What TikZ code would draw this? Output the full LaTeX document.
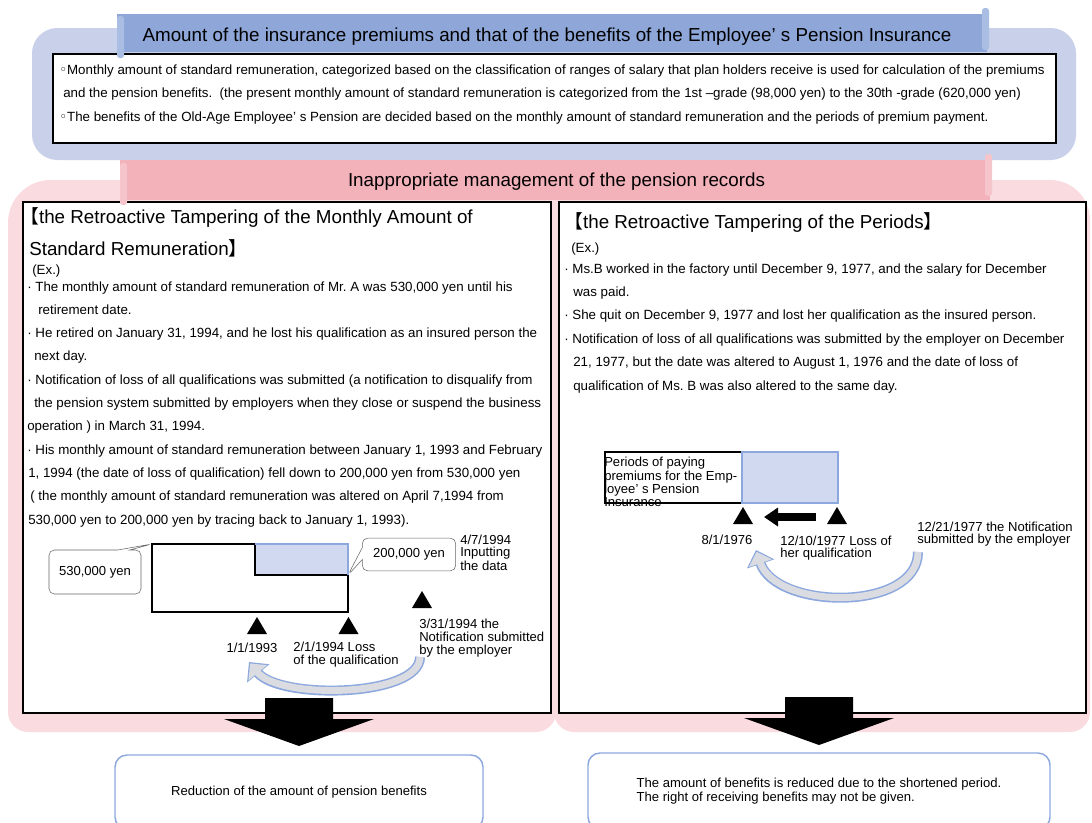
\documentclass[tikz,border=0pt]{standalone}
\usepackage{fontspec}
\setmainfont{Liberation Sans}
\newfontfamily\cjkFont{Noto Sans CJK JP}
\newfontfamily\symbolFont{DejaVu Sans}
\usetikzlibrary{positioning,arrows.meta,shapes.callouts}
\frenchspacing
\definecolor{headerBlue}{RGB}{142,167,216}
\definecolor{panelBlue}{RGB}{201,209,234}
\definecolor{headerPink}{RGB}{243,177,186}
\definecolor{panelPink}{RGB}{250,219,223}
\definecolor{barBlue}{RGB}{208,217,239}
\definecolor{edgeBlue}{RGB}{140,168,222}
\definecolor{arrowGray}{RGB}{218,220,225}
\tikzstyle{pixelGrid} = [x=0.75pt, y=-0.75pt]
\tikzstyle{headerText} = [font=\fontsize{14.1}{16}\selectfont, inner sep=0pt, anchor=base]
\tikzstyle{caseTitle} = [font=\fontsize{14.1}{16}\selectfont, inner sep=0pt, anchor=base west]
\tikzstyle{noteText} = [font=\fontsize{10}{12}\selectfont, inner sep=0pt, anchor=base west]
\tikzstyle{labelText} = [font=\fontsize{9.8}{9.75}\selectfont, inner sep=0pt, align=left, anchor=north west]
\tikzstyle{frameLine} = [draw=black, line width=1.5pt]
\tikzstyle{calloutBox} = [rectangle callout, draw=black!60, fill=white, rounded corners=4pt, font=\fontsize{9.8}{12}\selectfont, callout pointer width=9pt]
\tikzstyle{resultBox} = [draw=edgeBlue, line width=1.1pt, fill=white, rounded corners=9pt, font=\fontsize{9.8}{10.5}\selectfont]
\tikzstyle{bendOuter} = [draw=edgeBlue, line width=7.5pt, -{Triangle[length=11pt,width=21pt]}]
\tikzstyle{bendInner} = [draw=arrowGray, line width=5.2pt, shorten >=1.4pt, -{Triangle[length=9pt,width=17.5pt]}]
\tikzstyle{shiftArrow} = [line width=6pt, -{Triangle[length=10.5pt,width=13.5pt]}]
\newcommand{\dateMark}[2]{\fill (#1,#2) -- (#1 + 10,#2 + 17) -- (#1 - 10,#2 + 17) -- cycle;}
\newcommand{\downArrow}[2]{\fill (#1 - 34,#2) -- (#1 + 34,#2) -- (#1 + 34,#2 + 21) -- (#1 + 75,#2 + 21) -- (#1,#2 + 48) -- (#1 - 75,#2 + 21) -- (#1 - 34,#2 + 21) -- cycle;}
\begin{document}
\begin{tikzpicture}[pixelGrid]
  \useasboundingbox (0,0) rectangle (1092,822);
  % background panels
  \fill[panelBlue, rounded corners=19pt] (32,28) rectangle (1076,160);
  \fill[panelPink, rounded corners=15pt] (8,732) [rounded corners=32pt] -- (8,180) [rounded corners=15pt] -- (556,180) -- (556,732) -- cycle;
  \fill[panelPink, rounded corners=15pt] (554,732) -- (554,180) [rounded corners=30pt] -- (1090,180) [rounded corners=15pt] -- (1090,732) -- cycle;

  % frames
  \draw[frameLine, fill=white] (53,54) rectangle (1056,143);
  \draw[frameLine, fill=white] (23,202) rectangle (551,713);
  \draw[frameLine, fill=white] (559,202) rectangle (1086,713);

  % header bars
  \fill[headerBlue] (117,14) rectangle (987,52);
  \fill[headerBlue!75!white, rounded corners=2pt] (117,16) rectangle (124,58);
  \fill[headerBlue!75!white, rounded corners=2pt] (982,8) rectangle (989,50);
  \node[headerText] (premiumTitle) at (547,41.5) {Amount of the insurance premiums and that of the benefits of the Employee’ s Pension Insurance};
  \fill[headerPink] (120,160) rectangle (990,200);
  \fill[headerPink!75!white, rounded corners=2pt] (120,163) rectangle (127,205);
  \fill[headerPink!75!white, rounded corners=2pt] (985,154) rectangle (992,196);
  \node[headerText] (recordTitle) at (556.5,186.5) {Inappropriate management of the pension records};

  % rules of the insurance
  \node[noteText] (ruleLineA) at (59,74) {{\symbolFont ◦}Monthly amount of standard remuneration, categorized based on the classification of ranges of salary that plan holders receive is used for calculation of the premiums};
  \node[noteText] (ruleLineB) at (63,97) {and the pension benefits.\ \ (the present monthly amount of standard remuneration is categorized from the 1st –grade (98,000 yen) to the 30th -grade (620,000 yen)};
  \node[noteText] (ruleLineC) at (59,121) {{\symbolFont ◦}The benefits of the Old-Age Employee’ s Pension are decided based on the monthly amount of standard remuneration and the periods of premium payment.};

  % left case
  \node[caseTitle] (amountTitleA) at (20,223.5) {{\cjkFont 【}the Retroactive Tampering of the Monthly Amount of};
  \node[caseTitle] (amountTitleB) at (29,255) {Standard Remuneration{\cjkFont 】}};
  \node[noteText] (amountEx) at (32,274.5) {(Ex.)};
  \foreach \lineX/\lineText [count=\k] in {
      27/{· The monthly amount of standard remuneration of Mr. A was 530,000 yen until his},
      38/{retirement date.},
      27/{· He retired on January 31, 1994, and he lost his qualification as an insured person the},
      34/{next day.},
      27/{· Notification of loss of all qualifications was submitted (a notification to disqualify from},
      34/{the pension system submitted by employers when they close or suspend the business},
      27/{operation ) in March 31, 1994.},
      27/{· His monthly amount of standard remuneration between January 1, 1993 and February},
      28/{1, 1994 (the date of loss of qualification) fell down to 200,000 yen from 530,000 yen},
      30/{( the monthly amount of standard remuneration was altered on April 7,1994 from},
      28/{530,000 yen to 200,000 yen by tracing back to January 1, 1993).}} {
    \node[noteText] (amountLine\k) at (\lineX, {291 + 23.3*(\k - 1)}) {\lineText};
  }

  % right case
  \node[caseTitle] (periodTitle) at (564,228.5) {{\cjkFont 【}the Retroactive Tampering of the Periods{\cjkFont 】}};
  \node[noteText] (periodEx) at (571,252) {(Ex.)};
  \foreach \lineX/\lineText [count=\k] in {
      564/{· Ms.B worked in the factory until December 9, 1977, and the salary for December},
      573/{was paid.},
      564/{· She quit on December 9, 1977 and lost her qualification as the insured person.},
      564/{· Notification of loss of all qualifications was submitted by the employer on December},
      573/{21, 1977, but the date was altered to August 1, 1976 and the date of loss of},
      573/{qualification of Ms. B was also altered to the same day.}} {
    \node[noteText] (periodLine\k) at (\lineX, {273 + 23.4*(\k - 1)}) {\lineText};
  }

  % remuneration diagram
  \coordinate (rectCorner) at (152,544);
  \coordinate (stepCorner) at (348,575);
  \fill[barBlue] (255,544) rectangle (348,575);
  \filldraw[fill=white, line width=1.5pt] (152,544) -- (255,544) -- (255,575) -- (348,575) -- (348,612) -- (152,612) -- cycle;
  \draw[edgeBlue, line width=1.2pt] (255,544) -- (348,544) -- (348,575);
  \node[calloutBox, minimum width=69pt, minimum height=33pt, callout absolute pointer={(rectCorner)}] (highPay) at (95,572) {530,000 yen};
  \node[calloutBox, minimum width=70pt, minimum height=24.5pt, callout absolute pointer={(stepCorner)}] (lowPay) at (409,554.5) {200,000 yen};
  \node[labelText, font=\fontsize{9.8}{9}\selectfont] (inputDate) at (460,535) {4/7/1994\\Inputting\\the data};
  \node[labelText, anchor=base] (startDate) at (252,652.5) {1/1/1993};
  \node[labelText] (lossDate) at (293,642) {2/1/1994 Loss\\of the qualification};
  \node[labelText] (noticeDate) at (419,619) {3/31/1994 the\\Notification submitted\\by the employer};
  \dateMark{257}{617}
  \dateMark{348.5}{617}
  \dateMark{422}{591}
  \coordinate (leftTail) at (420,657);
  \coordinate (leftTip) at (249,662);
  \draw[bendOuter] (leftTail) .. controls +(0,40) and +(31,38) .. (leftTip);
  \draw[bendInner] (leftTail) .. controls +(0,40) and +(31,38) .. (leftTip);

  % period diagram
  \node[labelText, font=\fontsize{9.8}{7.5}\selectfont] (periodBox) at (604,457) {Periods of paying\\premiums for the Emp-\\loyee’ s Pension\\Insurance};
  \draw[line width=1.5pt] (605,452) rectangle (742,503);
  \fill[barBlue] (742,452) rectangle (838,503);
  \draw[edgeBlue, line width=1.2pt] (742,452) rectangle (838,503);
  \dateMark{743}{507}
  \dateMark{837}{507}
  \coordinate (shiftFrom) at (816,517);
  \coordinate (shiftTo) at (764,517);
  \draw[shiftArrow] (shiftFrom) -- (shiftTo);
  \node[labelText, anchor=base] (earlyDate) at (727,544.5) {8/1/1976};
  \node[labelText, font=\fontsize{9.8}{9}\selectfont] (quitDate) at (780,536) {12/10/1977 Loss of\\her qualification};
  \node[labelText, font=\fontsize{9.8}{9}\selectfont] (reportDate) at (917,522) {12/21/1977 the Notification\\submitted by the employer};
  \coordinate (rightTail) at (918,552);
  \coordinate (rightTip) at (756,550);
  \draw[bendOuter] (rightTail) .. controls +(0,60) and +(20,60) .. (rightTip);
  \draw[bendInner] (rightTail) .. controls +(0,60) and +(20,60) .. (rightTip);

  % results
  \downArrow{299}{698}
  \downArrow{819}{697}
  \node[resultBox, minimum width=276pt, minimum height=55.5pt, align=center] (benefitCut) at (299,792) {Reduction of the amount of pension benefits};
  \node[resultBox, minimum width=346.5pt, minimum height=57pt, align=left] (periodCut) at (819,791) {The amount of benefits is reduced due to the shortened period.\\The right of receiving benefits may not be given.};
\end{tikzpicture}
\end{document}
